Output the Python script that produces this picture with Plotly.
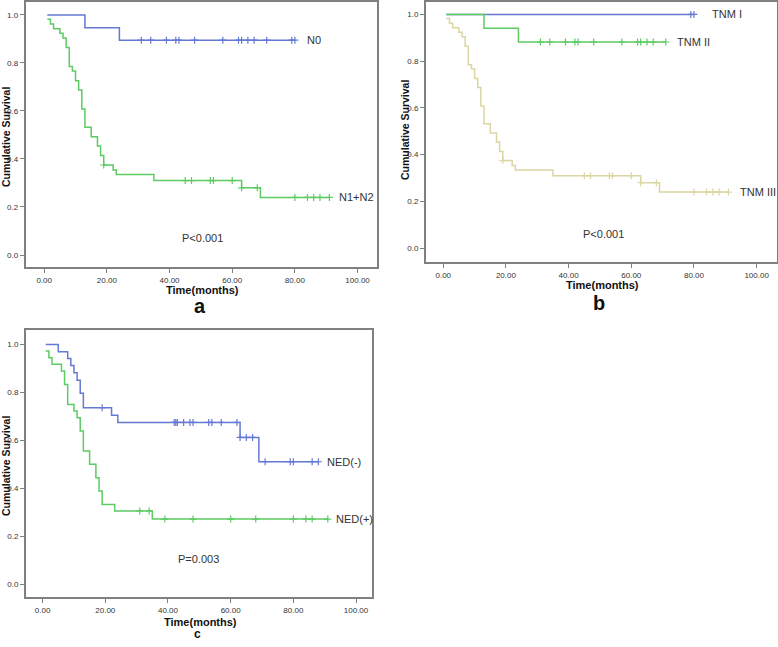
import plotly.graph_objects as go

# ---------------- data ----------------
# Panel a
n0_times = [1, 13, 24]
n0_surv = [1.0, 0.947, 0.895]
n0_censor = [31, 34, 39, 42, 43, 48, 57, 62, 63, 65, 67, 71, 79, 80]
n0_end = 80

n12_times = [1, 2, 3, 5, 6, 7, 8, 9, 10, 11, 12, 13, 15, 17, 18, 19, 22, 23, 35, 63, 69]
n12_surv = [0.982, 0.962, 0.943, 0.924, 0.904, 0.864, 0.785, 0.767, 0.726, 0.6875, 0.608,
            0.532, 0.493, 0.454, 0.414, 0.375, 0.354, 0.335, 0.31, 0.28, 0.24]
n12_censor = [19, 45, 47, 53, 54, 60, 63, 68, 80, 84, 86, 88, 91]
n12_end = 91

# Panel b
tnm1_times = [1]
tnm1_surv = [1.0]
tnm1_censor = [79, 80]
tnm1_end = 80

tnm2_times = [1, 13, 24]
tnm2_surv = [1.0, 0.941, 0.882]
tnm2_censor = [31, 34, 39, 42, 43, 48, 57, 62, 63, 65, 67, 71]
tnm2_end = 71

tnm3_times = n12_times
tnm3_surv = n12_surv
tnm3_censor = n12_censor
tnm3_end = n12_end

# Panel c
nedm_times = [1, 5, 8, 9, 10, 11, 12, 13, 22, 24, 63, 69]
nedm_surv = [1.0, 0.969, 0.941, 0.912, 0.882, 0.851, 0.796, 0.736, 0.705, 0.675, 0.6125, 0.511]
nedm_censor = [19, 42, 42.5, 43, 45, 47, 48, 53, 54, 57, 62, 63, 65, 67, 71, 79, 80, 86, 88]
nedm_end = 88

nedp_times = [1, 2, 3, 6, 7, 8, 10, 11, 12, 13, 15, 17, 18, 19, 23, 35]
nedp_surv = [0.972, 0.944, 0.917, 0.889, 0.833, 0.75, 0.722, 0.694, 0.639, 0.556,
             0.5, 0.444, 0.389, 0.333, 0.306, 0.272]
nedp_censor = [31, 34, 39, 48, 60, 68, 80, 84, 86, 91]
nedp_end = 91

x_ticks = [0, 20, 40, 60, 80, 100]
y_ticks = [0.0, 0.2, 0.4, 0.6, 0.8, 1.0]

# ---------------- styling ----------------
BLUE = "#6479d2"
GREEN = "#5ccb62"
KHAKI = "#dad6a2"
FRAME = "#808080"
TXT = "#333333"
FONT = "Arial, Liberation Sans, sans-serif"
W, H = 778, 647

fig = go.Figure()


def surv_at(times, surv, t):
    v = surv[0]
    for ti, si in zip(times, surv):
        if ti <= t:
            v = si
    return v


def add_curve(times, surv, censor, end, color, xa, ya):
    xs = list(times) + [end]
    ys = list(surv) + [surv[-1]]
    fig.add_trace(go.Scatter(x=xs, y=ys, mode="lines", line=dict(color=color, width=1.5, shape="hv"),
                             xaxis=xa, yaxis=ya, showlegend=False, hoverinfo="skip"))
    cy = [surv_at(times, surv, c) for c in censor]
    fig.add_trace(go.Scatter(x=censor, y=cy, mode="markers",
                             marker=dict(symbol="cross-thin", size=5, line=dict(color=color, width=1.2)),
                             xaxis=xa, yaxis=ya, showlegend=False, hoverinfo="skip"))


add_curve(n0_times, n0_surv, n0_censor, n0_end, BLUE, "x", "y")
add_curve(n12_times, n12_surv, n12_censor, n12_end, GREEN, "x", "y")
add_curve(tnm1_times, tnm1_surv, tnm1_censor, tnm1_end, BLUE, "x2", "y2")
add_curve(tnm2_times, tnm2_surv, tnm2_censor, tnm2_end, GREEN, "x2", "y2")
add_curve(tnm3_times, tnm3_surv, tnm3_censor, tnm3_end, KHAKI, "x2", "y2")
add_curve(nedm_times, nedm_surv, nedm_censor, nedm_end, BLUE, "x3", "y3")
add_curve(nedp_times, nedp_surv, nedp_censor, nedp_end, GREEN, "x3", "y3")


def px_dom_x(a, b):
    return [a / W, b / W]


def px_dom_y(top, bottom):
    return [1 - bottom / H, 1 - top / H]


def xaxis(dom, rng, anchor):
    return dict(domain=dom, range=rng, anchor=anchor, showline=True, mirror=True,
                linecolor=FRAME, linewidth=2, ticks="outside", ticklen=4, tickcolor=FRAME,
                tickvals=x_ticks, tickformat=".2f", showgrid=False, zeroline=False,
                automargin=False, tickfont=dict(family=FONT, size=8, color=TXT))


def yaxis(dom, rng, anchor):
    return dict(domain=dom, range=rng, anchor=anchor, showline=True, mirror=True,
                linecolor=FRAME, linewidth=2, ticks="outside", ticklen=4, tickcolor=FRAME,
                tickvals=y_ticks, tickformat=".1f", showgrid=False, zeroline=False,
                automargin=False, tickfont=dict(family=FONT, size=8, color=TXT))


fig.update_layout(
    width=W, height=H, margin=dict(l=0, r=0, t=0, b=0, autoexpand=False),
    paper_bgcolor="white", plot_bgcolor="white", showlegend=False,
    xaxis=xaxis(px_dom_x(25.7, 377), [-5.9, 106.2], "y"),
    yaxis=yaxis(px_dom_y(2, 267), [-0.05, 1.054], "x"),
    xaxis2=xaxis(px_dom_x(426, 776.7), [-5.5, 106.4], "y2"),
    yaxis2=yaxis(px_dom_y(2, 262), [-0.059, 1.053], "x2"),
    xaxis3=xaxis(px_dom_x(26, 371.7), [-5.3, 105], "y3"),
    yaxis3=yaxis(px_dom_y(330, 597.3), [-0.054, 1.06], "x3"),
)

ann = []


def paper_text(text, px, py, size, bold=False, angle=0):
    t = f"<b>{text}</b>" if bold else text
    ann.append(dict(text=t, x=px / W, y=1 - py / H, xref="paper", yref="paper",
                    xanchor="center", yanchor="middle", showarrow=False, textangle=angle,
                    font=dict(family=FONT, size=size, color="#111111" if bold else TXT)))


def data_text(text, x, y, xa, ya):
    ann.append(dict(text=text, x=x, y=y, xref=xa, yref=ya, xanchor="left", yanchor="middle",
                    showarrow=False, font=dict(family=FONT, size=11, color=TXT)))


# axis titles
paper_text("Cumulative Survival", 6, 137, 10.5, bold=True, angle=-90)
paper_text("Cumulative Survival", 405, 130, 10.5, bold=True, angle=-90)
paper_text("Cumulative Survival", 6, 466, 10.5, bold=True, angle=-90)
paper_text("Time(months)", 202, 290, 11, bold=True)
paper_text("Time(months)", 602, 285, 11, bold=True)
paper_text("Time(months)", 200, 622, 11, bold=True)
# panel letters
paper_text("a", 200, 306, 20, bold=True)
paper_text("b", 599, 303, 20, bold=True)
paper_text("c", 197, 634, 12, bold=True)
# p values
paper_text("P&lt;0.001", 202, 238, 11)
paper_text("P&lt;0.001", 603, 234, 11)
paper_text("P=0.003", 198, 559, 11)
# curve labels
data_text("N0", 83.2, 0.895, "x", "y")
data_text("N1+N2", 93.3, 0.24, "x", "y")
data_text("TNM I", 85.1, 1.0, "x2", "y2")
data_text("TNM II", 73.9, 0.882, "x2", "y2")
data_text("TNM III", 94.1, 0.24, "x2", "y2")
data_text("NED(-)", 90.1, 0.511, "x3", "y3")
data_text("NED(+)", 93.1, 0.272, "x3", "y3")

fig.update_layout(annotations=ann)
fig.write_html("out.html", config={"displayModeBar": False},
               post_script="document.body.style.margin='0';document.body.style.overflow='hidden';")
